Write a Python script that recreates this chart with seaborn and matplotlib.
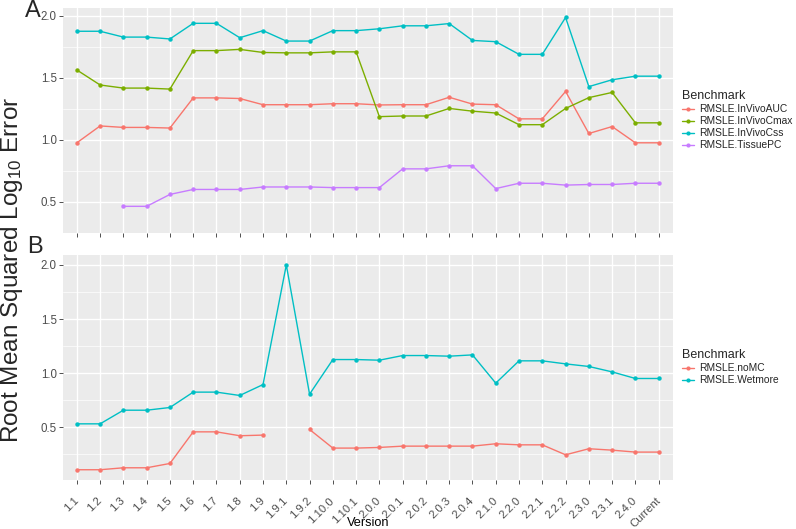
import numpy as np
import pandas as pd
import matplotlib
matplotlib.use('Agg')
import matplotlib.pyplot as plt
from matplotlib.lines import Line2D
import seaborn as sns

versions = ['1.1', '1.2', '1.3', '1.4', '1.5', '1.6', '1.7', '1.8', '1.9', '1.9.1',
            '1.9.2', '1.10.0', '1.10.1', '2.0.0', '2.0.1', '2.0.2', '2.0.3', '2.0.4',
            '2.1.0', '2.2.0', '2.2.1', '2.2.2', '2.3.0', '2.3.1', '2.4.0', 'Current']

# panel A
invivo_auc = [0.975, 1.111, 1.099, 1.099, 1.094, 1.337, 1.337, 1.332, 1.282, 1.282,
              1.282, 1.290, 1.290, 1.280, 1.282, 1.282, 1.342, 1.287, 1.282, 1.168,
              1.168, 1.389, 1.050, 1.106, 0.975, 0.975]
invivo_cmax = [1.562, 1.441, 1.416, 1.416, 1.408, 1.718, 1.718, 1.728, 1.703, 1.700,
               1.700, 1.708, 1.708, 1.186, 1.191, 1.191, 1.252, 1.230, 1.215, 1.121,
               1.121, 1.252, 1.339, 1.381, 1.136, 1.136]
invivo_css = [1.874, 1.874, 1.827, 1.827, 1.812, 1.938, 1.938, 1.822, 1.879, 1.795,
              1.795, 1.879, 1.879, 1.894, 1.918, 1.918, 1.936, 1.800, 1.790, 1.688,
              1.688, 1.985, 1.428, 1.483, 1.512, 1.512]
tissue_pc = [np.nan, np.nan, 0.463, 0.463, 0.559, 0.599, 0.599, 0.599, 0.619, 0.619,
             0.619, 0.614, 0.614, 0.614, 0.765, 0.765, 0.790, 0.790, 0.606, 0.649,
             0.649, 0.634, 0.639, 0.639, 0.649, 0.649]

# panel B
no_mc = [0.108, 0.108, 0.126, 0.126, 0.166, 0.458, 0.458, 0.422, 0.428, np.nan,
         0.480, 0.308, 0.308, 0.314, 0.326, 0.326, 0.326, 0.326, 0.348, 0.338,
         0.338, 0.246, 0.302, 0.289, 0.271, 0.271]
wetmore = [0.532, 0.532, 0.658, 0.658, 0.683, 0.825, 0.825, 0.794, 0.895, 2.000,
           0.806, 1.126, 1.126, 1.120, 1.163, 1.163, 1.157, 1.169, 0.908, 1.114,
           1.114, 1.086, 1.062, 1.012, 0.951, 0.951]

series_a = {'RMSLE.InVivoAUC': invivo_auc, 'RMSLE.InVivoCmax': invivo_cmax,
            'RMSLE.InVivoCss': invivo_css, 'RMSLE.TissuePC': tissue_pc}
series_b = {'RMSLE.noMC': no_mc, 'RMSLE.Wetmore': wetmore}
pal_a = ['#F8766D', '#7CAE00', '#00BFC4', '#C77CFF']
pal_b = ['#F8766D', '#00BFC4']


def long_df(series):
    # split each series at missing values so the line breaks there
    rows = []
    for name, vals in series.items():
        seg = 0
        for i, v in enumerate(vals):
            if np.isnan(v):
                seg += 1
                continue
            rows.append(dict(Version=i, Error=v, Benchmark=name, seg=seg))
    return pd.DataFrame(rows)


sns.set_theme(style='darkgrid', rc={
    'axes.facecolor': '#EBEBEB', 'grid.color': 'white',
    'xtick.bottom': True, 'ytick.left': True,
    'xtick.color': '#333333', 'ytick.color': '#333333',
    'xtick.labelcolor': '#4D4D4D', 'ytick.labelcolor': '#4D4D4D',
    'xtick.major.size': 2.9, 'ytick.major.size': 2.9,
    'xtick.major.width': 0.6, 'ytick.major.width': 0.6,
})
plt.rcParams['font.family'] = ['Liberation Sans', 'DejaVu Sans']

fig = plt.figure(figsize=(7.96, 5.29), dpi=100)
ax_a = fig.add_axes([0.079, 0.560, 0.766, 0.425])
ax_b = fig.add_axes([0.079, 0.093, 0.766, 0.425])

panels = [(ax_a, series_a, pal_a, (0.391, 2.062)),
          (ax_b, series_b, pal_b, (0.015, 2.092))]

for ax, series, pal, ylim in panels:
    df = long_df(series)
    sns.lineplot(data=df, x='Version', y='Error', hue='Benchmark', units='seg',
                 estimator=None, palette=pal, hue_order=list(series.keys()),
                 marker='o', markersize=3.2, markeredgewidth=0, linewidth=1.0,
                 legend=False, ax=ax)
    ax.set_xlim(-0.6, len(versions) - 0.4)
    ax.set_ylim(*ylim)
    ax.set_yticks([0.5, 1.0, 1.5, 2.0])
    ax.set_yticklabels(['0.5', '1.0', '1.5', '2.0'], fontsize=8.3)
    ax.set_yticks([0.25, 0.75, 1.25, 1.75], minor=True)
    ax.set_xticks(range(len(versions)))
    ax.grid(True, which='major', color='white', linewidth=1.0)
    ax.grid(True, which='minor', axis='y', color='white', linewidth=0.5)
    ax.tick_params(axis='y', which='minor', left=False)
    ax.tick_params(axis='both', which='major', pad=1.5)
    ax.set_ylabel('')
    ax.set_xlabel('')
    for s in ax.spines.values():
        s.set_visible(False)

    handles = [Line2D([], [], color=c, marker='o', markersize=3.0,
                      markeredgewidth=0, linewidth=1.0) for c in pal]
    leg = ax.legend(handles, list(series.keys()), title='Benchmark',
                    loc='center left', bbox_to_anchor=(1.016, 0.5),
                    frameon=False, fontsize=7.4, title_fontsize=9.0,
                    handlelength=1.1, handletextpad=0.5, labelspacing=0.2,
                    borderaxespad=0.0, borderpad=0.0)
    leg._legend_box.align = 'left'

ax_a.set_xticklabels([''] * len(versions))
ax_b.set_xticklabels(versions, rotation=45, ha='right', va='center',
                     rotation_mode='anchor', fontsize=8.2)
ax_b.tick_params(axis='x', pad=11)
ax_b.set_xlabel('Version', fontsize=9.2, color='black')
ax_b.xaxis.set_label_coords(0.5, -0.19)
ax_b.xaxis.label.set_va('center')

fig.text(0.0155, 0.49, 'Root Mean Squared Log$\\mathregular{_{10}}$ Error',
         rotation=90, ha='center', va='center', fontsize=17.5)
fig.text(0.041, 0.968, 'A', ha='center', va='baseline', fontsize=17)
fig.text(0.044, 0.522, 'B', ha='center', va='baseline', fontsize=17)

fig.savefig('out.png', dpi=100)
